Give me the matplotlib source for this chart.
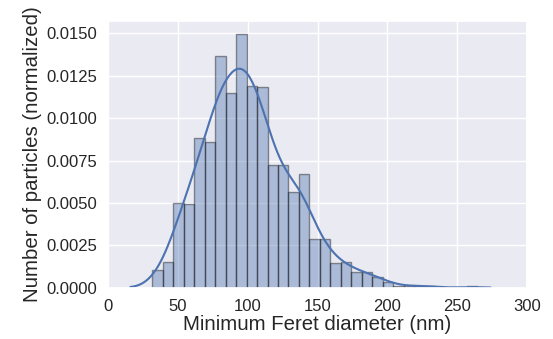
import numpy as np
import matplotlib
matplotlib.use("Agg")
import matplotlib.pyplot as plt
import seaborn as sns

# histogram (density normalized)
bin_start = 31.7
bin_width = 7.5
heights = [0.00105, 0.00153, 0.00501, 0.00492, 0.00881, 0.00861, 0.01368,
           0.01150, 0.01494, 0.01189, 0.01185, 0.00722, 0.00722, 0.00566,
           0.00670, 0.00285, 0.00285, 0.00144, 0.00153, 0.00093, 0.00093,
           0.00065, 0.00034, 0.00010, 0.00010, 0.00012, 0.00012, 0.0,
           0.0, 0.0, 0.00010]
kde_bw = 9.0
kde_range = (16, 274)

x_ticks = [0, 50, 100, 150, 200, 250, 300]
y_ticks = [0.0, 0.0025, 0.005, 0.0075, 0.01, 0.0125, 0.015]

sns.set_theme(style="darkgrid")
plt.rcParams['font.family'] = ['Liberation Sans', 'DejaVu Sans']

fig = plt.figure(figsize=(5.53, 3.39), dpi=100)
ax = fig.add_axes([0.1953, 0.1513, 0.7577, 0.7867])

heights = np.array(heights)
lefts = bin_start + bin_width * np.arange(len(heights))
ax.bar(lefts, heights, width=bin_width, align='edge', color='#4c72b0',
       alpha=0.4, edgecolor='black', linewidth=1.0)

# smooth density estimate from the bins
centers = lefts + bin_width / 2
w = heights / heights.sum()
xs = np.linspace(kde_range[0], kde_range[1], 300)
dens = np.zeros_like(xs)
for c, wi in zip(centers, w):
    dens += wi * np.exp(-0.5 * ((xs - c) / kde_bw) ** 2) / (kde_bw * np.sqrt(2 * np.pi))
ax.plot(xs, dens, color='#4c72b0', linewidth=1.5)

ax.set_xlim(0, 300)
ax.set_ylim(0, 0.01573)
ax.set_xticks(x_ticks)
ax.set_yticks(y_ticks)
ax.set_yticklabels(["%.4f" % v for v in y_ticks])
ax.tick_params(labelsize=12, pad=2)
ax.set_xlabel("Minimum Feret diameter (nm)", fontsize=14.7, labelpad=1)
ax.set_ylabel("Number of particles (normalized)", fontsize=14.7, labelpad=3)

fig.savefig("out.png", dpi=100)
